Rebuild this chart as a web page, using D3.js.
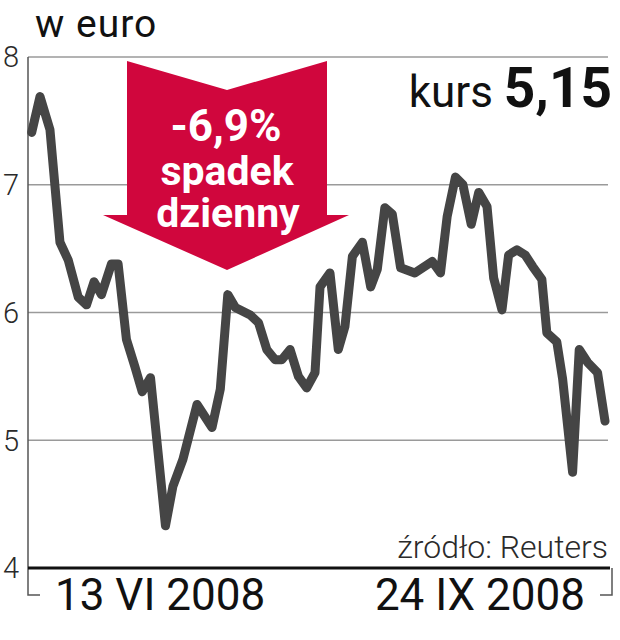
<!DOCTYPE html>
<html>
<head>
<meta charset="utf-8">
<script src="https://cdn.jsdelivr.net/npm/d3@7"></script>
<style>
  body { margin: 0; background: #fff; }
  svg { display: block; font-family: Roboto, "Noto Sans", sans-serif; }
</style>
</head>
<body>
<div id="chart"></div>
<script>
// kurs w euro, sesje od połowy maja do połowy października 2008
const days = [0, 1, 2.2, 3.4, 4.4, 5.6, 6.6, 7.5, 8.4, 9.6, 10.4, 11.4, 12.4, 13.3, 14.3,
  16.1, 17, 18.2, 19.9, 21.7, 22.7, 23.6, 24.5, 26.3, 27.3, 28.3, 29.3, 30.1, 31.1,
  32.1, 33.1, 34.1, 34.7, 35.9, 36.9, 37.7, 38.6, 39.8, 40.8, 41.6, 42.5, 43.4, 44.4,
  46.1, 48.2, 49.2, 50, 51, 51.9, 52.9, 53.8, 54.8, 55.6, 56.6, 57.4, 58.4, 59.4,
  60.3, 61.4, 62, 63.2, 63.9, 65.1, 65.9, 66.9, 68.1, 69];
const prices = [7.41, 7.69, 7.43, 6.55, 6.41, 6.12, 6.06, 6.24, 6.14, 6.38, 6.38, 5.79, 5.58, 5.38, 5.49,
  4.33, 4.64, 4.85, 5.28, 5.10, 5.40, 6.14, 6.04, 5.98, 5.92, 5.71, 5.63, 5.63, 5.71,
  5.50, 5.41, 5.53, 6.20, 6.31, 5.71, 5.89, 6.44, 6.55, 6.20, 6.34, 6.82, 6.77, 6.35,
  6.31, 6.40, 6.31, 6.75, 7.06, 7.00, 6.69, 6.94, 6.83, 6.27, 6.02, 6.45, 6.49, 6.45,
  6.36, 6.26, 5.84, 5.77, 5.48, 4.75, 5.71, 5.61, 5.53, 5.15];
const yTicks = [4, 5, 6, 7, 8];
const dateLabels = ["13 VI 2008", "24 IX 2008"];
const drop = ["-6,9%", "spadek", "dzienny"];
const lastPrice = "5,15";

const width = 620, height = 640;
const svg = d3.select("#chart").append("svg")
    .attr("width", width)
    .attr("height", height);

const x = d3.scaleLinear().domain([0, 69]).range([31.7, 605]);
const y = d3.scaleLinear().domain([4, 8]).range([568, 57]);
const left = 28, right = 608;

// siatka
svg.append("g")
    .selectAll("line")
    .data(yTicks.filter(d => d > 4))
    .join("line")
    .attr("x1", left).attr("x2", right)
    .attr("y1", d => y(d)).attr("y2", d => y(d))
    .attr("stroke", "#9a9a9a")
    .attr("stroke-width", 1.5);

// opisy osi Y
svg.append("g")
    .selectAll("text")
    .data(yTicks)
    .join("text")
    .attr("x", 19)
    .attr("y", d => y(d))
    .attr("dy", "0.36em")
    .attr("text-anchor", "end")
    .attr("fill", "#2a2a2a")
    .attr("font-weight", 300)
    .style("font-size", "29px")
    .text(d => d);

// oś pionowa z haczykiem
svg.append("path")
    .attr("d", `M${left},${y(8)}V595H40`)
    .attr("fill", "none")
    .attr("stroke", "#555")
    .attr("stroke-width", 1.5);

// oś pozioma
svg.append("line")
    .attr("x1", left).attr("x2", 610)
    .attr("y1", y(4)).attr("y2", y(4))
    .attr("stroke", "#111")
    .attr("stroke-width", 3);

svg.append("path")
    .attr("d", `M612,${y(4)}V595H600`)
    .attr("fill", "none")
    .attr("stroke", "#555")
    .attr("stroke-width", 1.5);

// strzałka
const arrow = [[127, 61], [227, 90], [327, 61], [327, 215], [349, 215], [227, 270], [103, 215], [127, 215]];
svg.append("polygon")
    .attr("points", arrow.map(p => p.join(",")).join(" "))
    .attr("fill", "#d0063d");

svg.append("text")
    .attr("x", 226).attr("y", 141)
    .attr("text-anchor", "middle")
    .attr("fill", "#fff")
    .attr("font-weight", 700)
    .style("font-size", "44px")
    .text(drop[0]);

svg.append("text")
    .attr("x", 227).attr("y", 185)
    .attr("text-anchor", "middle")
    .attr("fill", "#fff")
    .attr("font-weight", 700)
    .style("font-size", "41px")
    .text(drop[1]);

svg.append("text")
    .attr("x", 228).attr("y", 227)
    .attr("text-anchor", "middle")
    .attr("fill", "#fff")
    .attr("font-weight", 700)
    .style("font-size", "41px")
    .text(drop[2]);

// linia kursu
const line = d3.line()
    .x((d, i) => x(days[i]))
    .y(d => y(d));

svg.append("path")
    .datum(prices)
    .attr("d", line)
    .attr("fill", "none")
    .attr("stroke", "#454545")
    .attr("stroke-width", 9)
    .attr("stroke-linejoin", "round")
    .attr("stroke-linecap", "round");

// teksty
svg.append("text")
    .attr("x", 35).attr("y", 37)
    .attr("fill", "#111")
    .style("font-size", "39px")
    .style("letter-spacing", "1px")
    .text("w euro");

const kurs = svg.append("text")
    .attr("x", 612).attr("y", 107)
    .attr("text-anchor", "end")
    .attr("fill", "#111");
kurs.append("tspan")
    .style("font-size", "44px")
    .text("kurs ");
kurs.append("tspan")
    .attr("font-weight", 700)
    .style("font-size", "55px")
    .text(lastPrice);

svg.append("text")
    .attr("x", 608).attr("y", 558)
    .attr("text-anchor", "end")
    .attr("fill", "#2a2a2a")
    .attr("font-weight", 300)
    .style("font-size", "32px")
    .text("źródło: Reuters");

svg.append("text")
    .attr("x", 55).attr("y", 610)
    .attr("fill", "#111")
    .style("font-size", "44px")
    .text(dateLabels[0]);

svg.append("text")
    .attr("x", 585).attr("y", 610)
    .attr("text-anchor", "end")
    .attr("fill", "#111")
    .style("font-size", "44px")
    .text(dateLabels[1]);
</script>
</body>
</html>
